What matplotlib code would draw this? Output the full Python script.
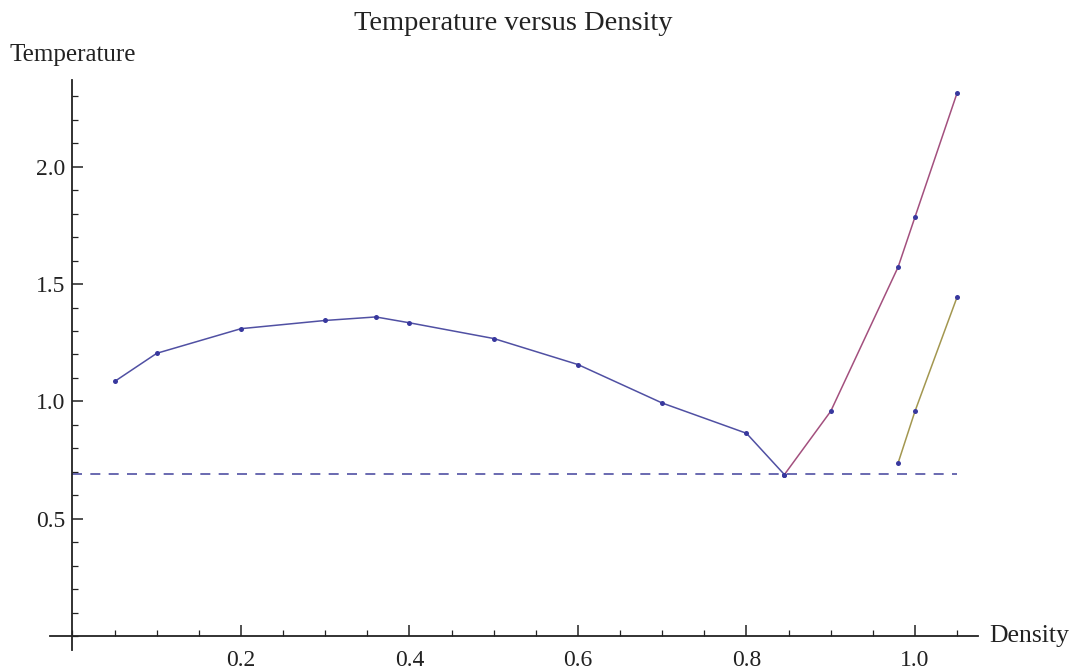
import matplotlib.pyplot as plt
from matplotlib.ticker import MultipleLocator, FixedLocator, FormatStrFormatter

# values
density_a = [0.05, 0.1, 0.2, 0.3, 0.36, 0.4, 0.5, 0.6, 0.7, 0.8, 0.845]
temp_a = [1.085, 1.205, 1.31, 1.345, 1.36, 1.335, 1.268, 1.157, 0.993, 0.864, 0.688]

density_b = [0.845, 0.9, 0.98, 1.0, 1.05]
temp_b = [0.688, 0.958, 1.573, 1.786, 2.315]

density_c = [0.98, 1.0, 1.05]
temp_c = [0.738, 0.958, 1.445]

critical_temp = 0.69
dash_range = [0.0, 1.05]

x_major = [0.2, 0.4, 0.6, 0.8, 1.0]
y_major = [0.5, 1.0, 1.5, 2.0]

BLUE = (0.24, 0.24, 0.6)
RED = (0.6, 0.24, 0.44)
OLIVE = (0.6, 0.55, 0.24)
PT = (0.22, 0.22, 0.62)

plt.rcParams['font.family'] = ['Liberation Serif', 'DejaVu Serif']

fig = plt.figure(figsize=(10.73, 6.72), dpi=100)
ax = fig.add_axes([50 / 1073, 22 / 672, 928 / 1073, 570 / 672])

ax.plot(dash_range, [critical_temp, critical_temp], color=BLUE, lw=1.2,
        ls=(0, (6, 5)), alpha=0.9)
ax.plot(density_a, temp_a, color=BLUE, lw=1.1, alpha=0.9)
ax.plot(density_b, temp_b, color=RED, lw=1.1, alpha=0.9)
ax.plot(density_c, temp_c, color=OLIVE, lw=1.1, alpha=0.9)
for xs, ys in [(density_a, temp_a), (density_b, temp_b), (density_c, temp_c)]:
    ax.plot(xs, ys, 'o', color=PT, ms=3.6, mec='none')

ax.set_xlim(-0.0267, 1.0748)
ax.set_ylim(-0.0597, 2.37)

for s in ['top', 'right']:
    ax.spines[s].set_visible(False)
for s in ['left', 'bottom']:
    ax.spines[s].set_position(('data', 0))
    ax.spines[s].set_linewidth(1.3)
    ax.spines[s].set_color('#222222')

ax.xaxis.set_major_locator(FixedLocator(x_major))
ax.yaxis.set_major_locator(FixedLocator(y_major))
ax.xaxis.set_minor_locator(MultipleLocator(0.05))
ax.yaxis.set_minor_locator(MultipleLocator(0.1))
ax.xaxis.set_major_formatter(FormatStrFormatter('%.1f'))
ax.yaxis.set_major_formatter(FormatStrFormatter('%.1f'))
ax.tick_params(which='both', direction='in', color='#222222', labelsize=17,
               labelcolor='#222222')
ax.tick_params(which='major', length=8, width=1.1)
ax.tick_params(which='minor', length=4, width=0.9)
ax.tick_params(axis='x', pad=10)
ax.tick_params(axis='y', pad=5)

fig.text(0.478, 0.965, 'Temperature versus Density', ha='center', va='center',
         fontsize=20.5, color='#222222')
fig.text(10 / 1073, 1 - 55 / 672, 'Temperature', ha='left', va='center',
         fontsize=18, color='#222222')
fig.text(989 / 1073, 1 - 636 / 672, 'Density', ha='left', va='center',
         fontsize=18.5, color='#222222')

fig.savefig('out.png', dpi=100)
